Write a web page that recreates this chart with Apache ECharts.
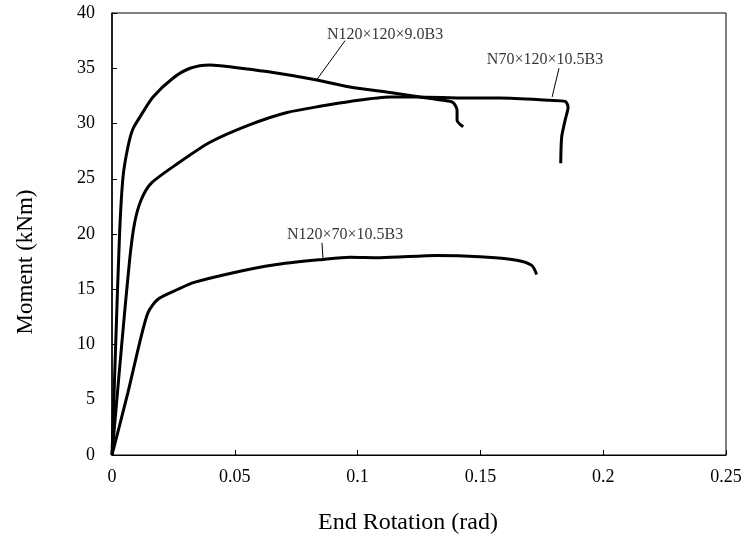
<!DOCTYPE html>
<html>
<head>
<meta charset="utf-8">
<script src="https://cdn.jsdelivr.net/npm/echarts@6/dist/echarts.min.js"></script>
<style>html,body{margin:0;padding:0;background:#fff}#c{width:747px;height:540px}</style>
</head>
<body>
<div id="c"></div>
<script>
var xTicks = [0, 0.05, 0.1, 0.15, 0.2, 0.25];
var yTicks = [0, 5, 10, 15, 20, 25, 30, 35, 40];

var seriesNames = ['N120×120×9.0B3', 'N70×120×10.5B3', 'N120×70×10.5B3'];

var curveA = [[0,0],[0.0015,10],[0.0031,20.1],[0.0045,25.2],[0.0065,27.9],[0.0085,29.5],[0.0114,30.6],[0.0167,32.4],[0.0248,34.1],[0.0318,35.0],[0.0399,35.3],[0.0493,35.1],[0.0631,34.7],[0.0818,34.0],[0.0969,33.3],[0.1132,32.8],[0.1254,32.4],[0.1348,32.1],[0.1388,31.9],[0.1405,31.2],[0.1405,30.3],[0.143,29.7]];

var curveB = [[0,0],[0.0038,9.6],[0.0072,17.7],[0.0092,21.0],[0.0119,23.1],[0.016,24.6],[0.0269,26.4],[0.0399,28.3],[0.0562,29.9],[0.0713,31.0],[0.0859,31.6],[0.0969,32.0],[0.1132,32.4],[0.1242,32.4],[0.1445,32.3],[0.158,32.3],[0.1783,32.1],[0.1845,32.0],[0.1857,31.5],[0.1845,30.3],[0.1831,28.8],[0.1827,26.4]];

var curveC = [[0,0],[0.0065,5.66],[0.0113,10.2],[0.0147,12.9],[0.0187,14.1],[0.0269,15.0],[0.0331,15.6],[0.0494,16.5],[0.0657,17.2],[0.086,17.7],[0.0969,17.9],[0.1091,17.85],[0.1322,18.06],[0.1498,17.94],[0.1648,17.63],[0.1709,17.16],[0.1729,16.34]];

var labelPos = [[0.1112,38.0],[0.1763,35.76],[0.0949,19.95]];
var leaderA = [[0.0949,37.5],[0.0835,34.0]];
var leaderB = [[0.182,35.0],[0.1792,32.4]];
var leaderC = [[0.0855,19.2],[0.0859,17.8]];

var font = 'Liberation Serif, Times New Roman, serif';
var chart = echarts.init(document.getElementById('c'));

function curve(data){
  return {type:'line', data:data, showSymbol:false, smooth:0.25, lineStyle:{color:'#000', width:3}, silent:true, z:3};
}
function leader(data){
  return {type:'line', data:data, showSymbol:false, lineStyle:{color:'#000', width:1}, silent:true, z:2};
}

chart.setOption({
  animation:false,
  backgroundColor:'#fff',
  grid:{left:112, right:21, top:13, bottom:84, show:true, borderColor:'#000', borderWidth:1, backgroundColor:'transparent'},
  xAxis:{type:'value', min:0, max:0.25, interval:0.05,
    name:'End Rotation (rad)', nameLocation:'middle', nameGap:56,
    nameTextStyle:{fontFamily:font, fontSize:24, color:'#000', padding:[0,22,0,0]},
    axisLine:{lineStyle:{color:'#000', width:1}},
    axisTick:{inside:true, length:5, lineStyle:{color:'#000'}},
    axisLabel:{fontFamily:font, fontSize:18, color:'#000', margin:13,
      formatter:function(v){var i=xTicks.indexOf(Math.round(v*100)/100); return i>=0?String(xTicks[i]):'';}},
    splitLine:{show:false}},
  yAxis:{type:'value', min:0, max:40, interval:5,
    name:'Moment (kNm)', nameLocation:'middle', nameGap:75, nameRotate:90,
    nameTextStyle:{fontFamily:font, fontSize:23, color:'#000', padding:[0,56,0,0]},
    axisLine:{show:true, lineStyle:{color:'#000', width:1.5}},
    axisTick:{show:true, inside:true, length:5, lineStyle:{color:'#000'}},
    axisLabel:{fontFamily:font, fontSize:18, color:'#000', margin:17},
    splitLine:{show:false}},
  series:[
    curve(curveA), curve(curveB), curve(curveC),
    leader(leaderA), leader(leaderB), leader(leaderC),
    {type:'scatter', symbolSize:0, silent:true, z:4,
      data:labelPos.map(function(p,i){return {value:p, name:seriesNames[i]};}),
      label:{show:true, position:'inside', formatter:'{b}', fontFamily:font, fontSize:16, color:'#000'}}
  ]
});
</script>
</body>
</html>
